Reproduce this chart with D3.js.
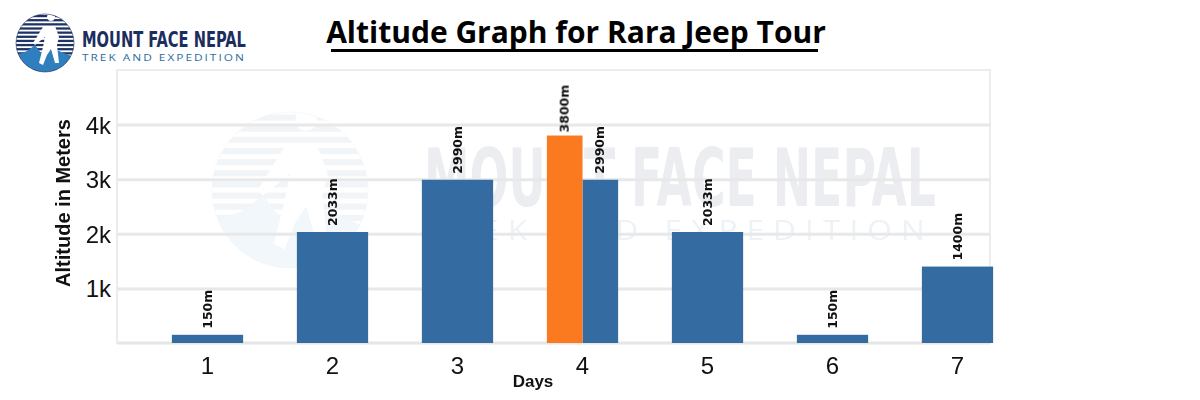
<!DOCTYPE html>
<html>
<head>
<meta charset="utf-8">
<script src="https://cdn.jsdelivr.net/npm/d3@7"></script>
<style>
  html, body { margin: 0; padding: 0; background: #fff; }
  svg { display: block; }
</style>
</head>
<body>
<svg id="chart" width="1200" height="400"></svg>
<script>
// ---- data ----
const days = ["1", "2", "3", "4", "5", "6", "7"];
const altitudes = [150, 2033, 2990, 2990, 2033, 150, 1400];
const altitudeLabels = ["150m", "2033m", "2990m", "2990m", "2033m", "150m", "1400m"];
const peakDay = ["4"];
const peakAltitude = [3800];
const peakLabel = ["3800m"];
const yTicks = [1000, 2000, 3000, 4000];
const yTickLabels = ["1k", "2k", "3k", "4k"];

const svg = d3.select("#chart");
const blue = "#346ba0";
const orange = "#fb7a1f";

const plot = { left: 117, right: 990, top: 70, bottom: 343 };
const x = d3.scaleBand().domain(days).range([145, 1020]).paddingInner(0.43).paddingOuter(0.215);
const y = d3.scaleLinear().domain([0, 5000]).range([plot.bottom, plot.top]);

// fit a text to a width with a horizontal scale (keeps bbox accurate)
function fitText(sel, width) {
  const node = sel.node();
  const w = node.getComputedTextLength();
  const x0 = +sel.attr("x"), y0 = +sel.attr("y");
  const k = width / w;
  sel.attr("x", 0).attr("y", 0).attr("transform", `translate(${x0},${y0}) scale(${k},1)`);
}

// ---- logo (top-left) ----
const logo = svg.append("g");
const defs = svg.append("defs");
defs.append("clipPath").attr("id", "logoClip").append("circle").attr("cx", 45).attr("cy", 43).attr("r", 29);
defs.append("clipPath").attr("id", "wmClip").append("circle").attr("cx", 290).attr("cy", 190).attr("r", 78);

function drawEmblem(g, cx, cy, r, clip, navy, lightBlue) {
  const e = g.append("g").attr("clip-path", `url(#${clip})`);
  const n = 14;
  for (let i = 0; i < n; i++) {
    const yy = cy - r + (i + 0.5) * (2 * r / n);
    e.append("rect").attr("x", cx - r).attr("y", yy - r / n * 0.55).attr("width", 2 * r).attr("height", r / n * 1.1).attr("fill", navy);
  }
  const s = r / 29;
  e.append("path")
    .attr("d", `M${cx - r},${cy + 12 * s} L${cx - 18 * s},${cy + 8 * s} L${cx - 10 * s},${cy + 2 * s} L${cx - 4 * s},${cy + 10 * s} L${cx + 4 * s},${cy + 4 * s} L${cx + r},${cy + 14 * s} L${cx + r},${cy + r} L${cx - r},${cy + r} Z`)
    .attr("fill", lightBlue);
  e.append("path")
    .attr("d", `M${cx + 6 * s},${cy - 22 * s} a${4 * s},${4 * s} 0 1 1 0.1,0 Z
      M${cx - 2 * s},${cy - 16 * s} L${cx + 10 * s},${cy - 17 * s} L${cx + 14 * s},${cy - 6 * s} L${cx + 12 * s},${cy + 2 * s}
      L${cx + 14 * s},${cy + 20 * s} L${cx + 10 * s},${cy + 20 * s} L${cx + 6 * s},${cy + 6 * s} L${cx + 2 * s},${cy + 12 * s}
      L${cx - 2 * s},${cy + 22 * s} L${cx - 6 * s},${cy + 20 * s} L${cx - 2 * s},${cy + 4 * s} L${cx},${cy - 6 * s}
      L${cx - 10 * s},${cy + 2 * s} L${cx - 12 * s},${cy} Z`)
    .attr("fill", "#fff");
  g.append("circle").attr("cx", cx).attr("cy", cy).attr("r", r).attr("fill", "none").attr("stroke", navy).attr("stroke-width", 0.6);
}
drawEmblem(logo, 45, 43, 29, "logoClip", "#1f3363", "#2f7fbf");

logo.append("text").attr("x", 82).attr("y", 47)
  .style("font-family", "'Liberation Sans Narrow', 'DejaVu Sans Condensed', 'Roboto', sans-serif")
  .style("font-weight", "bold").style("font-size", "21px").attr("fill", "#1c2d5e")
  .text("MOUNT FACE NEPAL").call(fitText, 164);
logo.append("text").attr("x", 82).attr("y", 61)
  .style("font-family", "'Open Sans', sans-serif").style("font-size", "9.5px").style("letter-spacing", "1.6px").attr("fill", "#2d6e9e")
  .text("TREK AND EXPEDITION").call(fitText, 164);

// ---- title ----
svg.append("text").attr("x", 576).attr("y", 43).attr("text-anchor", "middle")
  .style("font-family", "'Open Sans', sans-serif").style("font-weight", "bold").style("font-size", "30px")
  .attr("fill", "#000").text("Altitude Graph for Rara Jeep Tour");
svg.append("rect").attr("x", 331).attr("y", 49).attr("width", 487).attr("height", 3).attr("fill", "#000");

// ---- plot frame & grid ----
svg.append("rect").attr("x", plot.left).attr("y", plot.top).attr("width", plot.right - plot.left).attr("height", plot.bottom - plot.top)
  .attr("fill", "none").attr("stroke", "#ececec").attr("stroke-width", 2);

// watermark
const wm = svg.append("g").attr("opacity", 0.09);
drawEmblem(wm, 290, 190, 78, "wmClip", "#6f8aa6", "#5f9ccd");
wm.append("text").attr("x", 424).attr("y", 206)
  .style("font-family", "'Liberation Sans Narrow', 'DejaVu Sans Condensed', sans-serif").style("font-weight", "bold").style("font-size", "80px")
  .attr("fill", "#1c2d5e").text("MOUNT FACE NEPAL").call(fitText, 512);
wm.append("text").attr("x", 426).attr("y", 240)
  .style("font-family", "'Open Sans', sans-serif").style("font-size", "28px").style("letter-spacing", "8px").attr("fill", "#2d6e9e")
  .text("TREK AND EXPEDITION").call(fitText, 508);

const yAxis = d3.axisLeft(y).tickValues(yTicks).tickSize(-(plot.right - plot.left)).tickFormat((d, i) => yTickLabels[i]);
const gy = svg.append("g").attr("transform", `translate(${plot.left},0)`).call(yAxis);
gy.select(".domain").remove();
gy.selectAll(".tick line").attr("stroke", "#e8e8e8").attr("stroke-width", 3);
gy.selectAll(".tick text").attr("x", -6).attr("dy", "0.35em")
  .style("font-family", "'Liberation Sans', Arial, sans-serif").style("font-size", "24px").attr("fill", "#111");

svg.append("line").attr("x1", plot.left).attr("x2", plot.right).attr("y1", plot.bottom).attr("y2", plot.bottom)
  .attr("stroke", "#e6e6e6").attr("stroke-width", 3);

// ---- bars ----
const bars = svg.append("g");
const isPeak = d => peakDay.includes(d);
bars.selectAll("rect.main").data(days).join("rect").attr("class", "main")
  .attr("x", d => isPeak(d) ? x(d) + x.bandwidth() / 2 : x(d))
  .attr("width", d => isPeak(d) ? x.bandwidth() / 2 : x.bandwidth())
  .attr("y", (d, i) => y(altitudes[i]))
  .attr("height", (d, i) => y(0) - y(altitudes[i]))
  .attr("fill", blue);
bars.selectAll("rect.peak").data(peakDay).join("rect").attr("class", "peak")
  .attr("x", d => x(d)).attr("width", x.bandwidth() / 2)
  .attr("y", (d, i) => y(peakAltitude[i]))
  .attr("height", (d, i) => y(0) - y(peakAltitude[i]))
  .attr("fill", orange);

const labelStyle = sel => sel.style("font-family", "'DejaVu Sans', sans-serif").style("font-weight", "bold")
  .style("font-size", "12.5px").attr("fill", "#111");
bars.selectAll("text.main").data(days).join("text").attr("class", "main")
  .attr("transform", (d, i) => {
    const cx = isPeak(d) ? x(d) + x.bandwidth() * 0.75 : x(d) + x.bandwidth() / 2;
    return `translate(${cx + 4},${y(altitudes[i]) - 6}) rotate(-90)`;
  })
  .call(labelStyle).text((d, i) => altitudeLabels[i]);
bars.selectAll("text.peak").data(peakDay).join("text").attr("class", "peak")
  .attr("transform", (d, i) => `translate(${x(d) + x.bandwidth() / 4 + 4},${y(peakAltitude[i]) - 3}) rotate(-90)`)
  .call(labelStyle).text((d, i) => peakLabel[i]);

// ---- x axis ----
const gx = svg.append("g").attr("transform", `translate(0,${plot.bottom})`).call(d3.axisBottom(x).tickSize(0));
gx.select(".domain").remove();
gx.selectAll(".tick text").attr("dy", "0").attr("y", 31)
  .style("font-family", "'Liberation Sans', Arial, sans-serif").style("font-size", "24px").attr("fill", "#111");

svg.append("text").attr("x", 533).attr("y", 387).attr("text-anchor", "middle")
  .style("font-family", "'Liberation Sans', Arial, sans-serif").style("font-weight", "bold").style("font-size", "17px")
  .attr("fill", "#111").text("Days");
svg.append("text").attr("transform", "translate(70,203) rotate(-90)").attr("text-anchor", "middle")
  .style("font-family", "'Liberation Sans', Arial, sans-serif").style("font-weight", "bold").style("font-size", "20px")
  .attr("fill", "#111").text("Altitude in Meters");
</script>
</body>
</html>
